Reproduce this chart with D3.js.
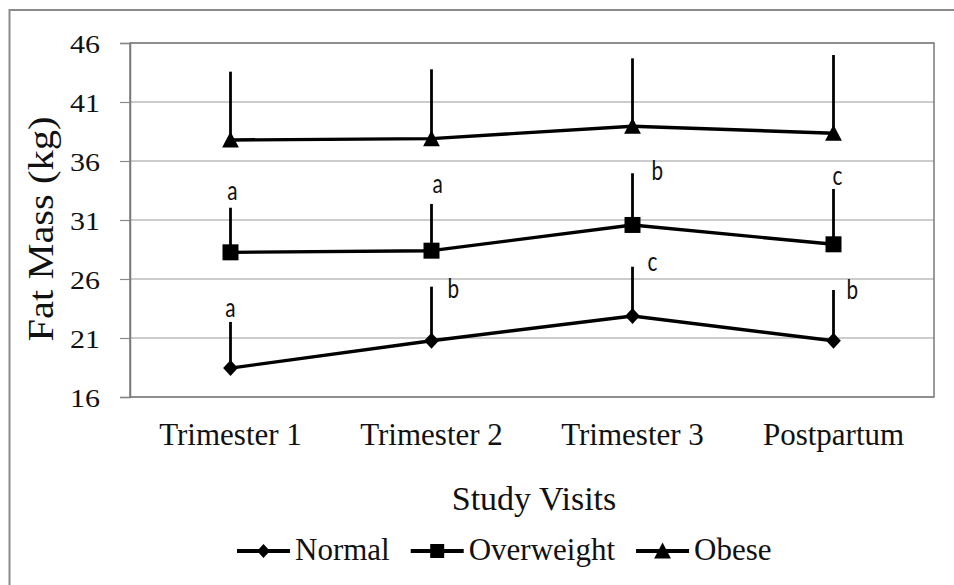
<!DOCTYPE html>
<html>
<head>
<meta charset="utf-8">
<script src="https://cdn.jsdelivr.net/npm/d3@7"></script>
<style>
  html, body { margin: 0; padding: 0; background: #fff; }
  svg { display: block; }
</style>
</head>
<body>
<svg id="chart" width="954" height="585"></svg>
<script>
// ---- data ----
const categories = ["Trimester 1", "Trimester 2", "Trimester 3", "Postpartum"];
const yTicks = [16, 21, 26, 31, 36, 41, 46];
const seriesNames = ["Normal", "Overweight", "Obese"];
const normalMean = [18.45, 20.77, 22.86, 20.77];
const normalSD = [3.91, 4.58, 4.18, 4.30];
const overweightMean = [28.26, 28.40, 30.58, 28.94];
const overweightSD = [3.78, 3.96, 4.38, 4.69];
const obeseMean = [37.78, 37.90, 38.95, 38.35];
const obeseSD = [5.79, 5.87, 5.75, 6.63];
const normalLetters = ["a", "b", "c", "b"];
const overweightLetters = ["a", "a", "b", "c"];

// ---- layout (label nudges, px) ----
const normalLetterNudge = [[0, -5, "middle"], [16, 11, "start"], [15, 4, "start"], [13, 9, "start"]];
const overweightLetterNudge = [[2, -8, "middle"], [1, -11, "start"], [19, 7, "start"], [-1, -4, "start"]];

const serif = "'Liberation Serif', 'Times New Roman', Times, serif";
const svg = d3.select("#chart");
const plot = { left: 130, right: 934, top: 43, bottom: 397 };

// outer chart border
svg.append("rect")
  .attr("x", 9.5).attr("y", 10)
  .attr("width", 960).attr("height", 600)
  .attr("fill", "#fff").attr("stroke", "#8a8a8a").attr("stroke-width", 2);

const x = d3.scaleBand().domain(categories).range([plot.left, plot.right]).padding(0);
const y = d3.scaleLinear().domain([16, 46]).range([plot.bottom, plot.top]);
const cx = c => x(c) + x.bandwidth() / 2;

// gridlines
svg.append("g").selectAll("line").data(yTicks).join("line")
  .attr("x1", plot.left).attr("x2", plot.right)
  .attr("y1", d => y(d)).attr("y2", d => y(d))
  .attr("stroke", "#9a9a9a").attr("stroke-width", 1.2);

// plot border
svg.append("rect")
  .attr("x", plot.left).attr("y", plot.top)
  .attr("width", plot.right - plot.left).attr("height", plot.bottom - plot.top)
  .attr("fill", "none").attr("stroke", "#7a7a7a").attr("stroke-width", 1.5);

// y axis
const yAxis = svg.append("g")
  .attr("transform", `translate(${plot.left},0)`)
  .call(d3.axisLeft(y).tickValues(yTicks).tickSize(10).tickPadding(20).tickFormat(d3.format("d")))
  .attr("font-family", serif);
yAxis.select(".domain").attr("stroke", "#7a7a7a").attr("stroke-width", 1.5);
yAxis.selectAll(".tick line").attr("stroke", "#8a8a8a").attr("stroke-width", 1.2);
yAxis.selectAll(".tick text")
  .attr("font-family", serif)
  .attr("font-size", 26).attr("fill", "#111")
  .attr("textLength", 30).attr("lengthAdjust", "spacingAndGlyphs")
  .attr("dy", "0.36em");

// x axis
const xAxis = svg.append("g")
  .attr("transform", `translate(0,${plot.bottom})`)
  .call(d3.axisBottom(x).tickSize(0))
  .attr("font-family", serif);
xAxis.select(".domain").remove();
xAxis.selectAll(".tick text")
  .attr("font-family", serif)
  .attr("font-size", 31).attr("fill", "#111")
  .attr("dy", null).attr("y", 48);

// axis titles
svg.append("text")
  .attr("transform", `translate(53,229) rotate(-90)`)
  .attr("text-anchor", "middle")
  .attr("font-family", serif)
  .attr("font-size", 36).attr("fill", "#111")
  .attr("textLength", 225).attr("lengthAdjust", "spacingAndGlyphs")
  .text("Fat Mass (kg)");

svg.append("text")
  .attr("x", 534).attr("y", 510)
  .attr("text-anchor", "middle")
  .attr("font-family", serif)
  .attr("font-size", 34).attr("fill", "#111")
  .text("Study Visits");

// series
const series = [
  { name: seriesNames[0], mean: normalMean, sd: normalSD, shape: "diamond" },
  { name: seriesNames[1], mean: overweightMean, sd: overweightSD, shape: "square" },
  { name: seriesNames[2], mean: obeseMean, sd: obeseSD, shape: "triangle" }
];

function markerPath(shape, s) {
  if (shape === "diamond") return `M0,${-s}L${s * 0.92},0L0,${s}L${-s * 0.92},0Z`;
  if (shape === "square") return `M${-s},${-s}H${s}V${s}H${-s}Z`;
  return `M0,${-s * 1.05}L${s * 1.05},${s * 0.95}L${-s * 1.05},${s * 0.95}Z`;
}

const line = d3.line().x((d, i) => cx(categories[i])).y(d => y(d));

series.forEach(s => {
  const g = svg.append("g");
  g.selectAll("line.err").data(categories).join("line")
    .attr("x1", c => cx(c)).attr("x2", c => cx(c))
    .attr("y1", (c, i) => y(s.mean[i]))
    .attr("y2", (c, i) => y(s.mean[i] + s.sd[i]))
    .attr("stroke", "#000").attr("stroke-width", 2.8);
  g.append("path").datum(s.mean)
    .attr("d", line).attr("fill", "none")
    .attr("stroke", "#000").attr("stroke-width", 3.4).attr("stroke-linejoin", "round");
  g.selectAll("path.mk").data(s.mean).join("path")
    .attr("transform", (d, i) => `translate(${cx(categories[i])},${y(d)})`)
    .attr("d", markerPath(s.shape, 8))
    .attr("fill", "#000");
});

// significance letters
function letters(mean, sd, labs, nudge) {
  svg.append("g").selectAll("text").data(labs).join("text")
    .attr("transform", (d, i) =>
      `translate(${cx(categories[i]) + nudge[i][0]},${y(mean[i] + sd[i]) + nudge[i][1]}) scale(0.9,1.15)`)
    .attr("text-anchor", (d, i) => nudge[i][2])
    .attr("font-family", "Lato, 'Open Sans', sans-serif")
    .attr("font-size", 23).attr("fill", "#111")
    .text(d => d);
}
letters(normalMean, normalSD, normalLetters, normalLetterNudge);
letters(overweightMean, overweightSD, overweightLetters, overweightLetterNudge);

// legend
const legend = svg.append("g");
let lx = 237;
const ly = 551;
series.forEach(s => {
  const item = legend.append("g");
  item.append("line").attr("x1", lx).attr("x2", lx + 53).attr("y1", ly).attr("y2", ly)
    .attr("stroke", "#000").attr("stroke-width", 4);
  item.append("path")
    .attr("transform", `translate(${lx + 26.5},${ly})`)
    .attr("d", markerPath(s.shape, s.shape === "triangle" ? 8 : 7))
    .attr("fill", "#000");
  const t = item.append("text")
    .attr("x", lx + 58).attr("y", 560)
    .attr("font-family", serif)
    .attr("font-size", 31).attr("fill", "#111")
    .text(s.name);
  lx = lx + 58 + t.node().getComputedTextLength() + 21;
});
</script>
</body>
</html>
